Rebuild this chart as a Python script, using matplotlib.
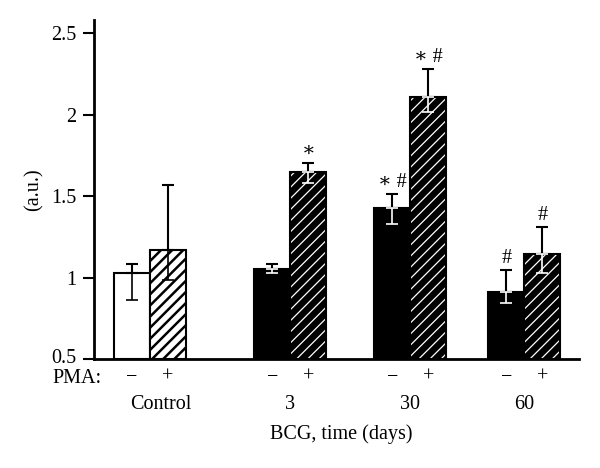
import matplotlib
matplotlib.use("Agg")
import matplotlib.pyplot as plt
import matplotlib.transforms as mtransforms

# data
groups = ["Control", "3", "30", "60"]
minus_mean = [1.03, 1.05, 1.425, 0.91]
minus_hi = [1.08, 1.08, 1.515, 1.045]
minus_lo = [0.86, 1.03, 1.33, 0.845]
plus_mean = [1.17, 1.645, 2.11, 1.145]
plus_hi = [1.565, 1.705, 2.28, 1.31]
plus_lo = [0.985, 1.58, 2.015, 1.03]
minus_marks = ["", "", "\u2217 #", "#"]
plus_marks = ["", "\u2217", "\u2217 #", "#"]
yticks = [0.5, 1, 1.5, 2, 2.5]
ytick_labels = ["0.5", "1", "1.5", "2", "2.5"]

plt.rcParams['font.family'] = ['Liberation Serif', 'DejaVu Serif']

centers = [1.55, 5.45, 8.78, 11.95]  # group centres, bar width = 1
w = 1.0
fs = 14.5

fig = plt.figure(figsize=(6, 4.68), dpi=100)
ax = fig.add_axes([0.157, 0.233, 0.808, 0.724])

for i, c in enumerate(centers):
    xm = c - w / 2
    xp = c + w / 2
    # minus bar
    if i == 0:
        ax.bar(xm, minus_mean[i] - 0.5, w, bottom=0.5, color="white", edgecolor="black", linewidth=1.5, zorder=2)
    else:
        ax.bar(xm, minus_mean[i] - 0.5, w, bottom=0.5, color="black", edgecolor="black", linewidth=1.5, zorder=2)
    # plus bar (hatched)
    if i == 0:
        b = ax.bar(xp, plus_mean[i] - 0.5, w, bottom=0.5, color="white", edgecolor="black", hatch="///", linewidth=0, zorder=2)
        hl = 1.8
    else:
        b = ax.bar(xp, plus_mean[i] - 0.5, w, bottom=0.5, color="black", edgecolor="white", hatch="///", linewidth=0, zorder=2)
        hl = 0.9
    for p in b.patches:
        if hasattr(p, "set_hatch_linewidth"):
            p.set_hatch_linewidth(hl)
    ax.bar(xp, plus_mean[i] - 0.5, w, bottom=0.5, fill=False, edgecolor="black", linewidth=1.5, zorder=3)

    # error bars: upper part black, lower part inside the bar
    lowc = "black" if i == 0 else "white"
    for x, m, hi, lo, mark in [(xm, minus_mean[i], minus_hi[i], minus_lo[i], minus_marks[i]),
                               (xp, plus_mean[i], plus_hi[i], plus_lo[i], plus_marks[i])]:
        ax.errorbar(x, m, yerr=[[0], [hi - m]], fmt="none", ecolor="black", elinewidth=1.5, capsize=4.5, capthick=1.5, zorder=4)
        ax.errorbar(x, m, yerr=[[m - lo], [0]], fmt="none", ecolor=lowc, elinewidth=1.2, capsize=4.5, capthick=1.2, zorder=4)
        if mark:
            ax.text(x, hi + 0.012, mark, ha="center", va="bottom", fontsize=fs)

ax.set_xlim(0, 13.47)
ax.set_ylim(0.5, 2.58)
ax.set_yticks(yticks)
ax.set_yticklabels(ytick_labels, fontsize=fs)
ax.tick_params(axis="y", direction="out", length=8, width=1.5, pad=5)
ax.set_xticks([])
for s in ["top", "right"]:
    ax.spines[s].set_visible(False)
for s in ["left", "bottom"]:
    ax.spines[s].set_linewidth(2)
ax.set_ylabel("(a.u.)", fontsize=fs, labelpad=5)

# nudge the lowest tick label up a little, as in the original
lab0 = ax.get_yticklabels()[0]
lab0.set_transform(lab0.get_transform() + mtransforms.ScaledTranslation(0, 2 / 72, fig.dpi_scale_trans))

trans = mtransforms.blended_transform_factory(ax.transData, ax.transAxes)
ax.text(0.2, -0.058, "PMA:", transform=trans, ha="right", va="center", fontsize=fs)
for i, c in enumerate(centers):
    ax.text(c - w / 2, -0.055, "\u2212", transform=trans, ha="center", va="center", fontsize=fs)
    ax.text(c + w / 2, -0.055, "+", transform=trans, ha="center", va="center", fontsize=fs)
    ax.text(c + (0.3 if i == 0 else 0), -0.135, groups[i], transform=trans, ha="center", va="center", fontsize=fs)
ax.text(6.86, -0.222, "BCG, time (days)", transform=trans, ha="center", va="center", fontsize=fs)

fig.savefig("out.png", dpi=100)
